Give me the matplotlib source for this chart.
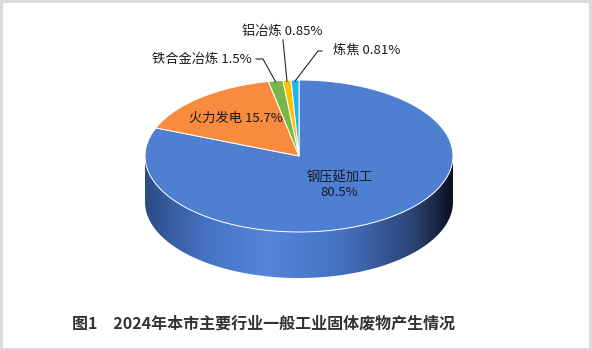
import numpy as np
import matplotlib
matplotlib.use('Agg')
import matplotlib.pyplot as plt
from matplotlib.patches import Polygon, Rectangle
from matplotlib.colors import LinearSegmentedColormap

plt.rcParams['font.family'] = ['Noto Sans CJK SC', 'DejaVu Sans']

# data
industries = ['钢压延加工', '火力发电', '铁合金冶炼', '铝冶炼', '炼焦']
shares = [80.5, 15.7, 1.5, 0.85, 0.81]
share_labels = ['80.5%', '15.7%', '1.5%', '0.85%', '0.81%']
colors = ['#4e7fd1', '#f88b3e', '#7ab648', '#ffc000', '#1eb4f0']
title = '图1　2024年本市主要行业一般工业固体废物产生情况'

# pie geometry in pixel-like coordinates
cx, cy, rx, ry, depth = 299, 156, 154, 76, 46


def ell(t, dy=0.0, f=1.0):
    t = np.radians(t)
    return cx + f * rx * np.sin(t), cy - f * ry * np.cos(t) + dy


fig = plt.figure(figsize=(5.92, 3.5), dpi=100)
ax = fig.add_axes([0, 0, 1, 1])

# side wall (front half) with a horizontal shading
t = np.linspace(90, 270, 200)
tx, ty = ell(t)
bx, by = ell(t[::-1], dy=depth)
side = Polygon(np.column_stack([np.r_[tx, bx], np.r_[ty, by]]),
               closed=True, facecolor='none', edgecolor='none')
ax.add_patch(side)
shade = LinearSegmentedColormap.from_list('side', [
    (0.0, '#2c4c86'), (0.18, '#4470c0'), (0.39, '#5586db'),
    (0.65, '#4470be'), (0.88, '#2a4272'), (1.0, '#0a1222')])
grad = np.linspace(0, 1, 300).reshape(1, -1)
im = ax.imshow(grad, cmap=shade, aspect='auto',
               extent=(cx - rx, cx + rx, cy + ry + depth, cy - ry),
               zorder=1)
im.set_clip_path(side)

# top face wedges
total = sum(shares)
bounds = np.r_[0, np.cumsum(shares)] / total * 360
mids = (bounds[:-1] + bounds[1:]) / 2
for i in range(len(shares)):
    ang = np.linspace(bounds[i], bounds[i + 1], 100)
    px, py = ell(ang)
    pts = np.column_stack([np.r_[cx, px], np.r_[cy, py]])
    ax.add_patch(Polygon(pts, closed=True, facecolor=colors[i],
                         edgecolor='white', linewidth=0.7, zorder=2))

# inside labels
lx, ly = ell(mids[0], f=0.47)
ax.text(lx, ly, industries[0] + '\n' + share_labels[0], ha='center',
        va='center', fontsize=9.5, color='#1a1a2a', linespacing=1.15, zorder=5)
lx, ly = ell(mids[1], f=0.64)
ax.text(lx, ly, industries[1] + ' ' + share_labels[1], ha='center',
        va='center', fontsize=9.5, color='#1a1a1a', zorder=5)

# outside labels with leader lines
label_pos = {2: (252, 59, 'right'), 3: (282, 31, 'center'), 4: (333, 50, 'left')}
elbows = {2: [(256, 59), (263, 59)], 3: [(283, 40)], 4: [(322, 51), (318, 51)]}
for i, (x, y, ha) in label_pos.items():
    ax.text(x, y, industries[i] + ' ' + share_labels[i], ha=ha, va='center',
            fontsize=9.5, color='#1a1a1a', zorder=5)
    ex, ey = ell(mids[i])
    pts = elbows[i] + [(ex, ey + 1)]
    ax.plot([p[0] for p in pts], [p[1] for p in pts], color='#262626',
            lw=0.8, zorder=4)

ax.text(264, 323, title, ha='center', va='center', fontsize=11.5,
        fontweight='bold', color='#333333')

ax.set_xlim(0, 592)
ax.set_ylim(350, 0)
ax.axis('off')

fig.patches.append(Rectangle((0.002, 0.003), 0.995, 0.994, transform=fig.transFigure,
                             fill=False, edgecolor='#d9d9d9', linewidth=2))

fig.savefig('out.png', dpi=100)
plt.close(fig)
